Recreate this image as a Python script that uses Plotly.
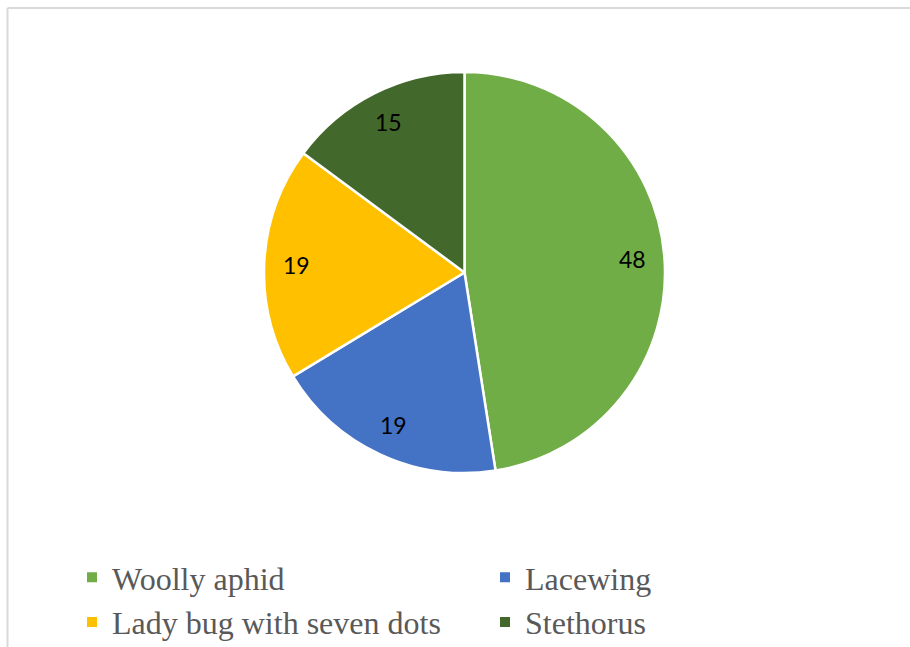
import math
import plotly.graph_objects as go

categories = ["Woolly aphid", "Lacewing", "Lady bug with seven dots", "Stethorus"]
values = [48, 19, 19, 15]
colors = ["#70AD47", "#4472C4", "#FFC000", "#43682B"]

W, H = 910, 647

# pie placement in pixels
cx, cy, r = 464.5, 272.5, 200.5
dom_x = [(cx - r) / W, (cx + r) / W]
dom_y = [(H - (cy + r)) / H, (H - (cy - r)) / H]

fig = go.Figure(go.Pie(
    labels=categories,
    values=values,
    sort=False,
    direction="clockwise",
    rotation=0,
    marker=dict(colors=colors, line=dict(color="white", width=2.5)),
    textinfo="none",
    domain=dict(x=dom_x, y=dom_y),
    hoverinfo="label+value",
))

# data labels near outer edge of each slice (Excel style), derived from values
total = sum(values)
annotations = []
cum = 0
for v in values:
    mid = (cum + v / 2) / total * 2 * math.pi
    cum += v
    px = cx + 0.84 * r * math.sin(mid)
    py = cy - 0.84 * r * math.cos(mid)
    annotations.append(dict(
        x=px / W, y=(H - py) / H, xref="paper", yref="paper",
        text=str(v), showarrow=False, xanchor="center", yanchor="middle",
        font=dict(family="Lato", size=23, color="black"),
    ))

fig.update_layout(
    width=W, height=H,
    margin=dict(l=0, r=0, t=0, b=0, autoexpand=False),
    paper_bgcolor="white",
    plot_bgcolor="white",
    showlegend=True,
    annotations=annotations,
    legend=dict(
        orientation="h",
        x=72 / W, xanchor="left",
        y=(H - 550) / H, yanchor="top",
        entrywidth=368, entrywidthmode="pixels",
        font=dict(family="Liberation Serif", size=32, color="#595959"),
        itemsizing="constant",
        traceorder="normal",
    ),
    shapes=[
        dict(type="line", xref="paper", yref="paper",
             x0=7.5 / W, x1=7.5 / W, y0=0, y1=(H - 8) / H,
             line=dict(color="#d9d9d9", width=2)),
        dict(type="line", xref="paper", yref="paper",
             x0=7.5 / W, x1=1, y0=(H - 8) / H, y1=(H - 8) / H,
             line=dict(color="#d9d9d9", width=2)),
    ],
)

fig.write_html("out.html", config={"displayModeBar": False},
               post_script="document.body.style.margin='0px';")
